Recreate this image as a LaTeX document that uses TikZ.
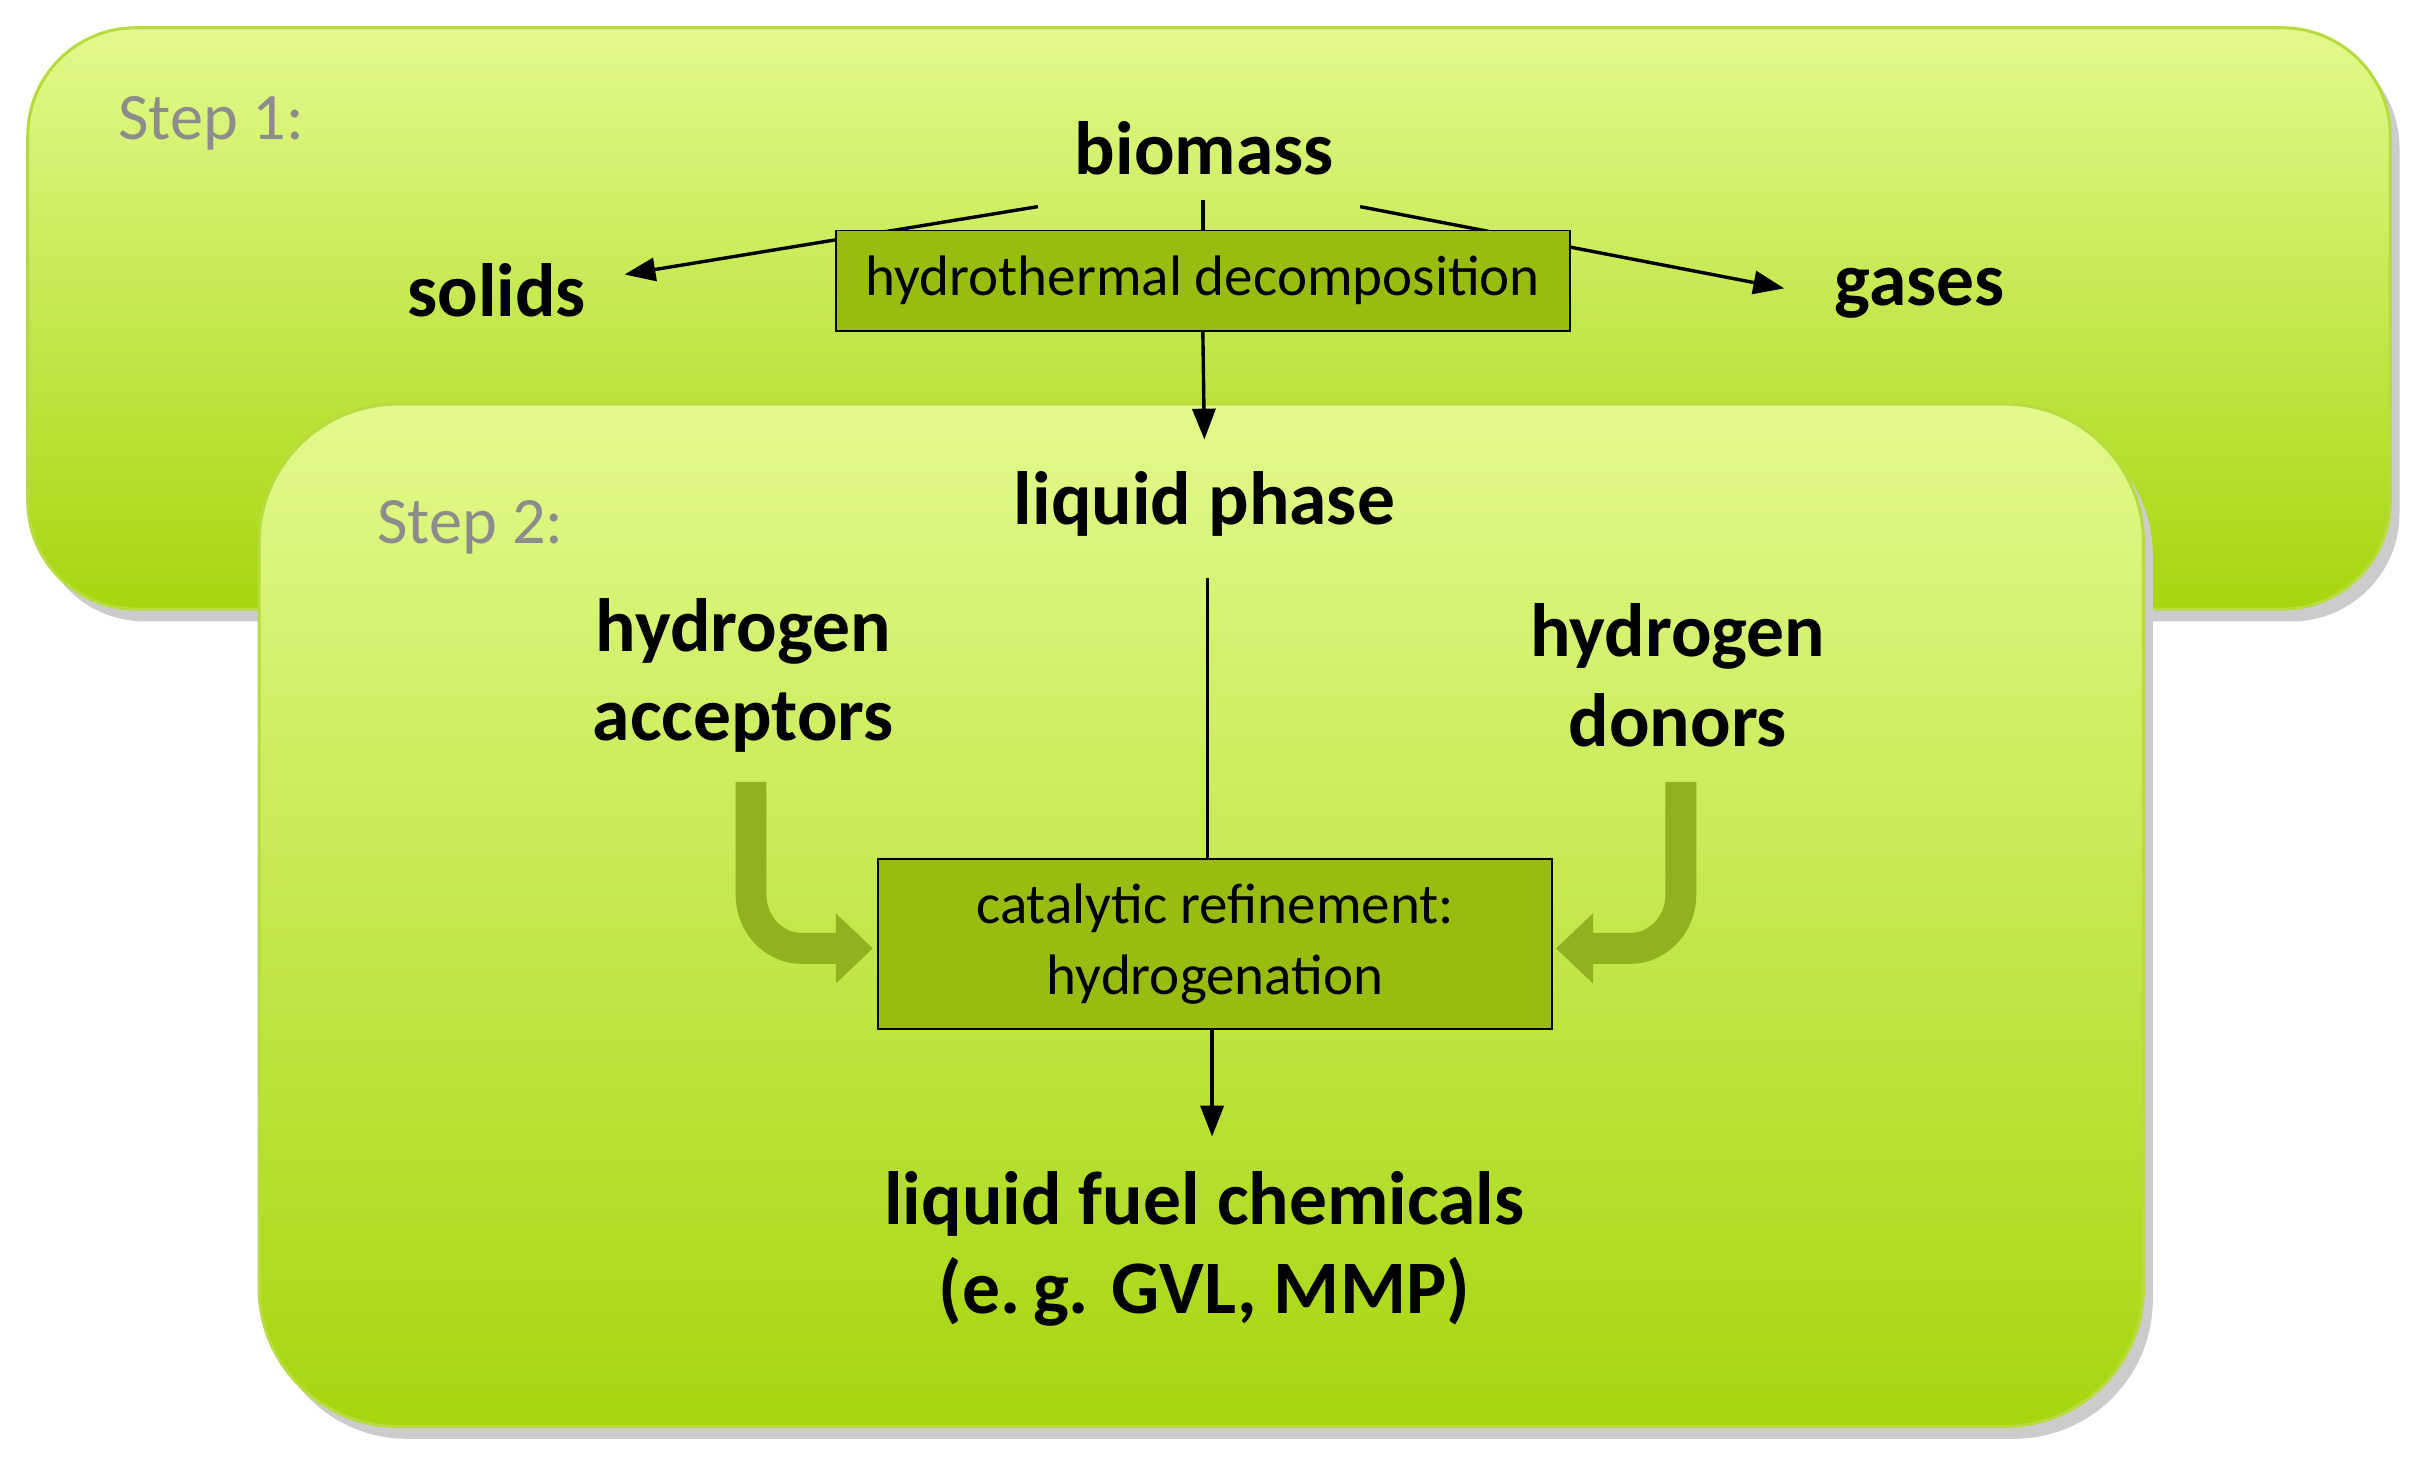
\documentclass[tikz,border=0pt]{standalone}
\usepackage{fontspec}
\setmainfont{Carlito}
\usetikzlibrary{arrows.meta}
\definecolor{boxtop}{HTML}{E2FA8C}
\definecolor{boxbot}{HTML}{A6D60E}
\definecolor{boxedge}{HTML}{B8DC40}
\definecolor{procfill}{HTML}{99BC10}
\definecolor{fat}{HTML}{8FB21E}
\begin{document}
\begin{tikzpicture}[x=1pt,y=-1pt,
  stage/.style={draw=boxedge,line width=2pt,top color=boxtop,bottom color=boxbot},
  steplbl/.style={text=gray!90,font=\fontsize{43}{43}\selectfont},
  lbl/.style={font=\bfseries\fontsize{49}{58}\selectfont,align=center},
  proc/.style={draw=black,line width=1.2pt,fill=procfill,font=\fontsize{37}{46}\selectfont,align=center,inner sep=0pt},
  arr/.style={line width=2.2pt,-{Triangle[length=20pt,width=15pt]}},
  ln/.style={line width=2.2pt},
  big/.style={line width=20pt,draw=fat,-{Triangle[length=24pt,width=44pt]}}]
\useasboundingbox (0,0) rectangle (1568,958);
\fill[gray!40,rounded corners=70pt] (24,26) rectangle (1556,403);
\path[stage,rounded corners=70pt] (18,18) rectangle (1550,395);
\fill[gray!40,rounded corners=90pt] (174,270) rectangle (1396,933);
\path[stage,rounded corners=90pt] (168,262) rectangle (1390,925);
\node[steplbl] (s1) at (137,80) {Step 1:};
\node[steplbl] (s2) at (305,342) {Step 2:};
\node[lbl] (bio) at (781,96) {biomass};
\node[lbl] (sol) at (322,188) {solids};
\node[lbl] (gas) at (1245,190) {gases};
\coordinate (bl) at (673,134); \coordinate (br) at (882,134);
\coordinate (bm) at (780,130);
\node[proc,minimum width=476pt,minimum height=65pt] (hd) at (780,182) {hydrothermal decomposition};
\draw[arr] (bl) -- (405,178) coordinate (se);
\draw[arr] (br) -- (1157,187) coordinate (ge);
\draw[ln] (bm) -- (hd.north);
\node[proc,minimum width=476pt,minimum height=65pt] at (780,182) {hydrothermal decomposition};
\node[lbl] (lp) at (781,327) {liquid phase};
\draw[arr] (hd.south) -- (781,285) coordinate (lpt);
\node[lbl] (ha) at (482,438) {hydrogen\\acceptors};
\node[lbl] (hdn) at (1088,438) {hydrogen\\donors};
\node[proc,minimum width=437pt,minimum height=110pt] (cr) at (788,612) {catalytic refinement:\\hydrogenation};
\draw[ln] (783,375) coordinate (lpb) -- (cr.north -| 783,0);
\draw[arr] (cr.south -| 786,0) -- (786,737) coordinate (lft);
\node[lbl] (lf) at (781,810) {liquid fuel chemicals\\(e.\,g. GVL, MMP)};
\draw[big] (487,507) coordinate (a0) -- (487,580) to[out=-90,in=180] (520,615) -- (566,615);
\draw[big] (1090,507) coordinate (d0) -- (1090,580) to[out=-90,in=0] (1057,615) -- (1009,615);
\end{tikzpicture}
\end{document}
